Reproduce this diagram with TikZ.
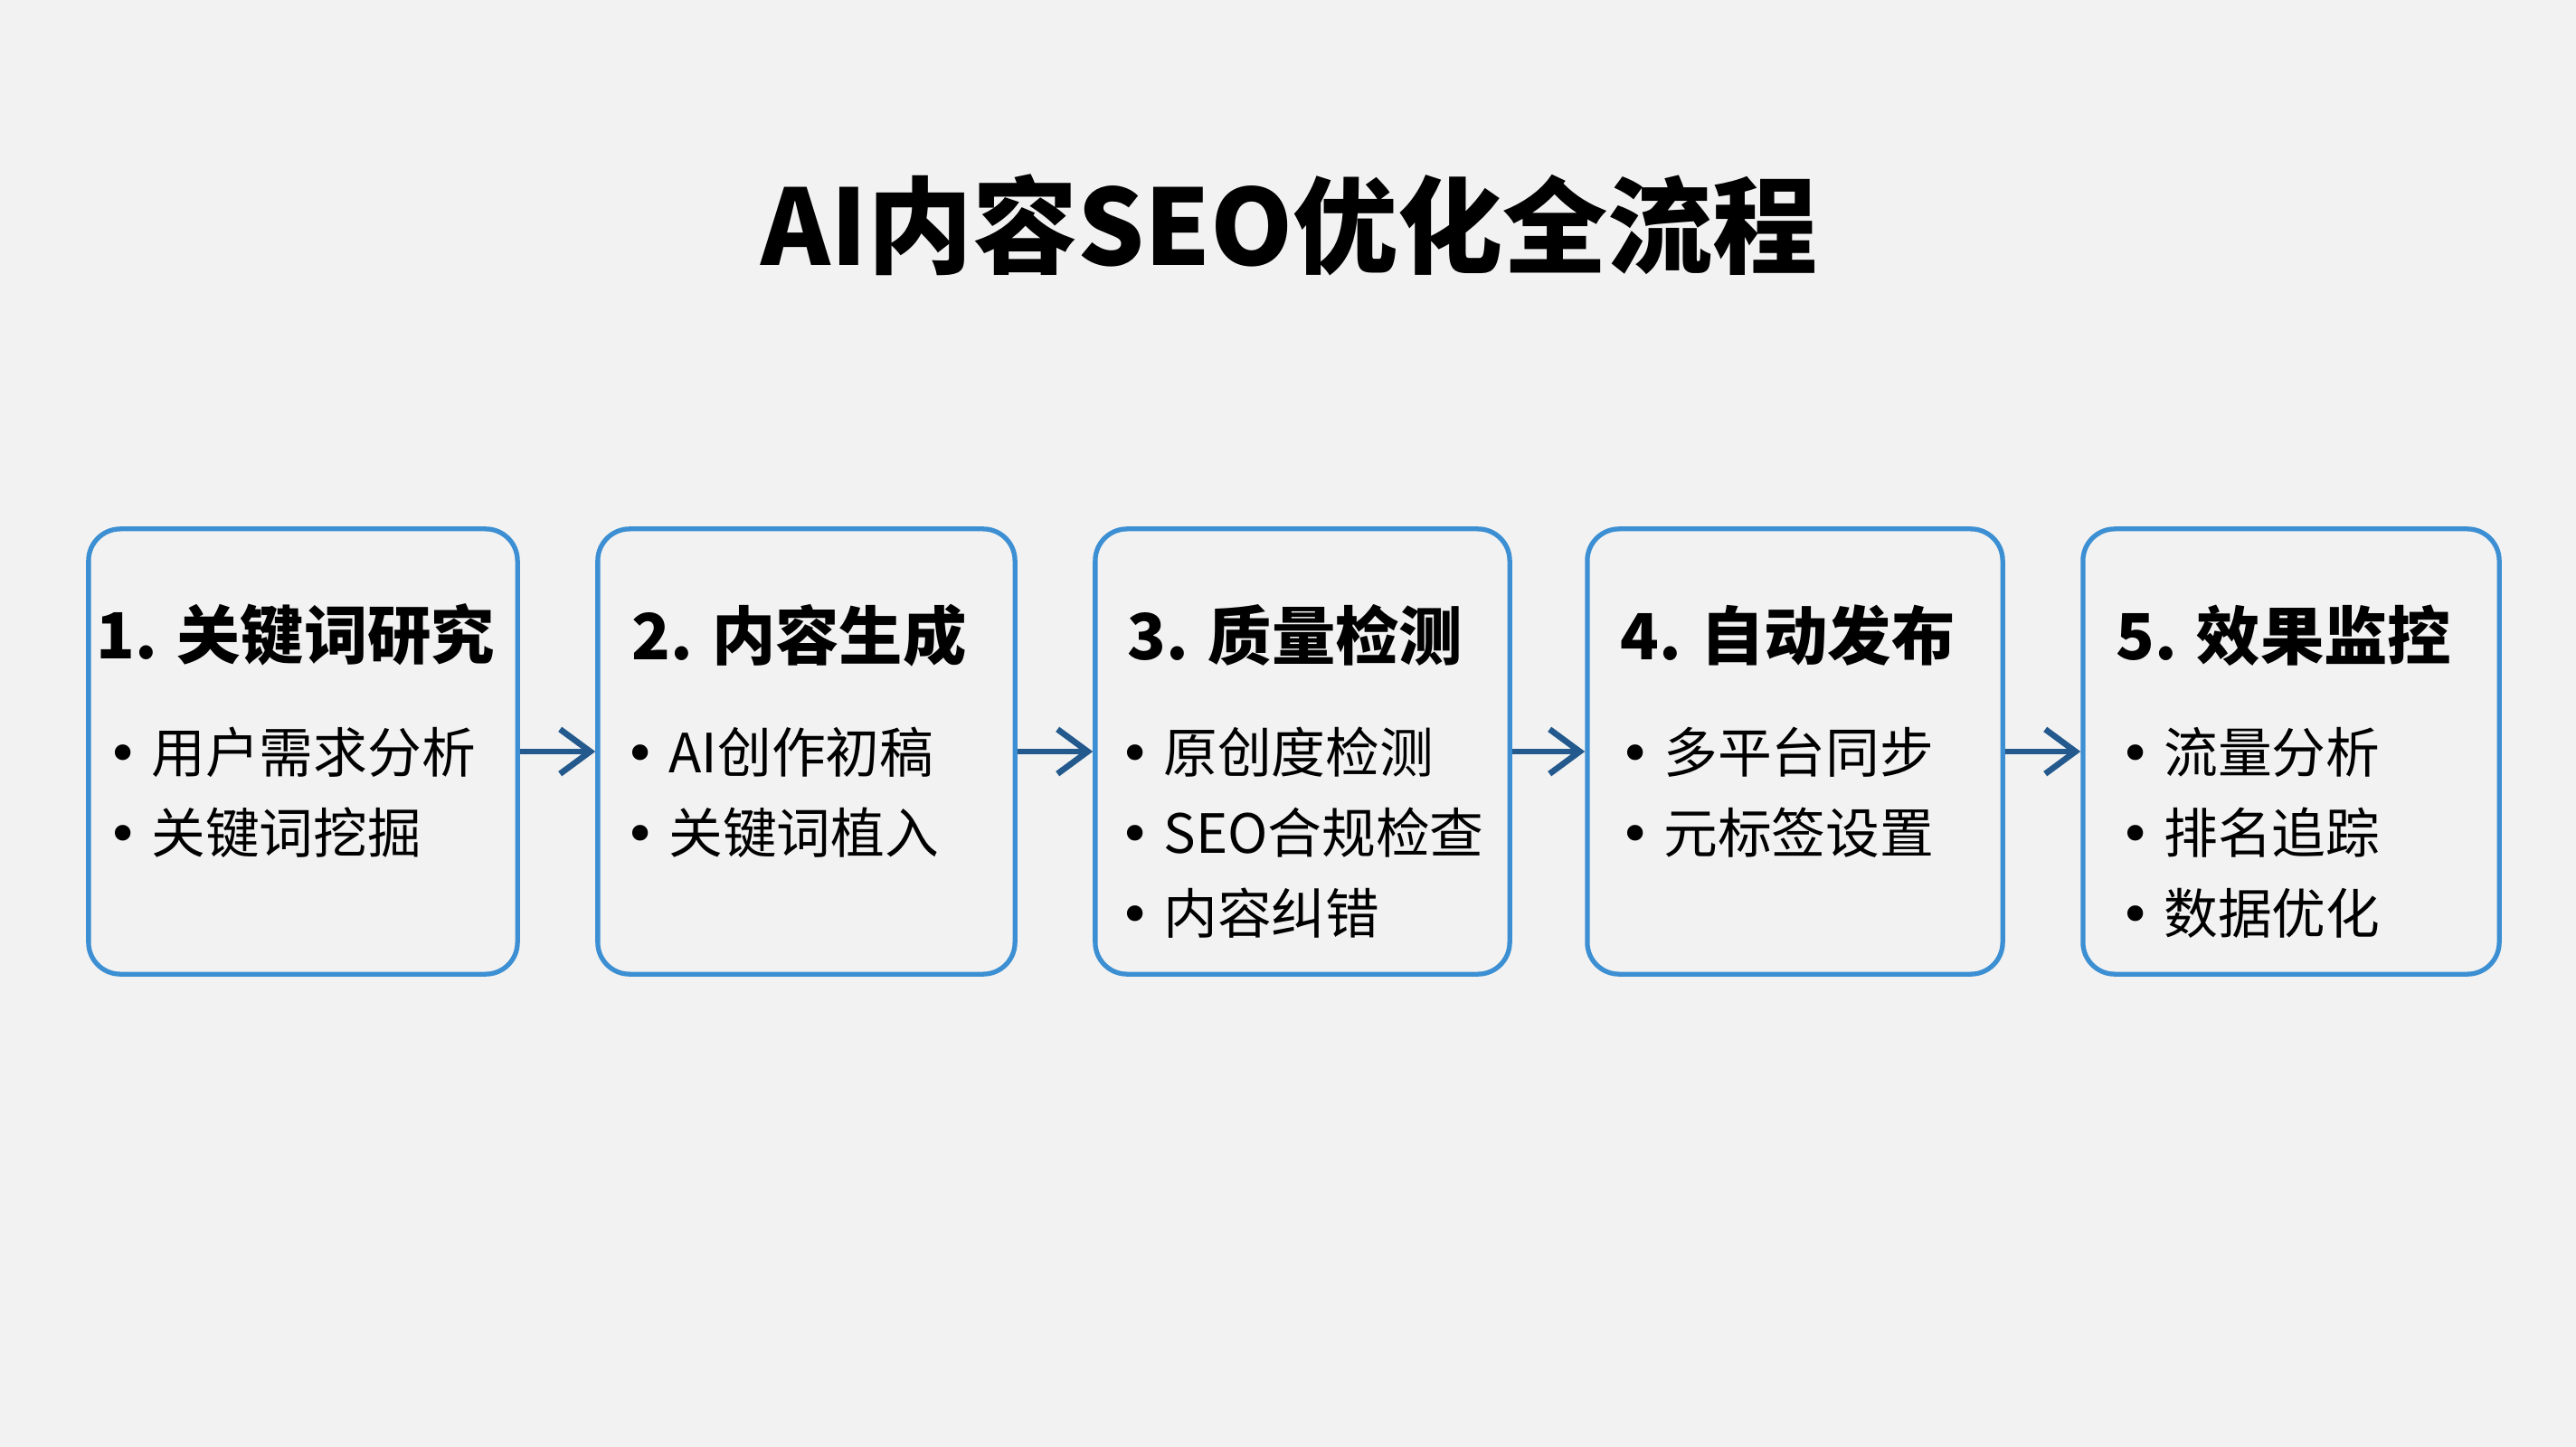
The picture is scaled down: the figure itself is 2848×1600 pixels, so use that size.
\documentclass[tikz,border=0pt]{standalone}
\usepackage{fontspec}
\setmainfont{Noto Sans CJK SC}
\newfontfamily\symfont{DejaVu Sans}
\usepackage{xcolor}
\usetikzlibrary{arrows.meta, positioning}
\definecolor{boxblue}{HTML}{3C8FD2}
\definecolor{arrowblue}{HTML}{23598C}
\definecolor{paper}{HTML}{F2F2F2}
\newcommand\itemdot{{\symfont•}\hspace{0.22em}}

\tikzset{
  stage/.style={draw=boxblue, line width=1.5pt, rounded corners=10pt, fill=paper, minimum height=4.92cm, inner sep=0pt},
  stagehead/.style={font=\bfseries\fontsize{20}{24}\selectfont, inner sep=0pt},
  stageitem/.style={font=\fontsize{17}{20}\selectfont, anchor=west, inner sep=0pt},
  flow/.style={draw=arrowblue, line width=1.9pt, -{Straight Barb[length=9.5pt, width=14pt]}}
}

\begin{document}
\begin{tikzpicture}[x=0.01cm, y=-0.01cm]
  \fill[paper] (0,0) rectangle (2848,1600);
  \useasboundingbox (0,0) rectangle (2848,1600);

  \node[font=\bfseries\fontsize{33}{40}\selectfont] (title) at (1426,249) {AI内容SEO优化全流程};

  % the five stages
  \node[stage, minimum width=4.74cm] (s1) at (335,831) {};
  \node[stage, minimum width=4.61cm] (s2) at (891.5,831) {};
  \node[stage, minimum width=4.58cm] (s3) at (1440,831) {};
  \node[stage, minimum width=4.59cm] (s4) at (1984.5,831) {};
  \node[stage, minimum width=4.60cm] (s5) at (2533,831) {};

  \node[stagehead] (h1) at ([xshift=-0.08cm, yshift=-1.2cm]s1.north) {1. 关键词研究};
  \node[stagehead] (h2) at ([xshift=-0.08cm, yshift=-1.2cm]s2.north) {2. 内容生成};
  \node[stagehead] (h3) at ([xshift=-0.08cm, yshift=-1.2cm]s3.north) {3. 质量检测};
  \node[stagehead] (h4) at ([xshift=-0.08cm, yshift=-1.2cm]s4.north) {4. 自动发布};
  \node[stagehead] (h5) at ([xshift=-0.08cm, yshift=-1.2cm]s5.north) {5. 效果监控};

  \foreach \b/\dx/\items in {1/0.23/{用户需求分析, 关键词挖掘},
                             2/0.32/{AI创作初稿, 关键词植入},
                             3/0.29/{原创度检测, SEO合规检查, 内容纠错},
                             4/0.38/{多平台同步, 元标签设置},
                             5/0.43/{流量分析, 排名追踪, 数据优化}}{
    \foreach \t [count=\k] in \items
      \node[stageitem] (i\b\k) at ([xshift=\dx cm, yshift=-1.6cm-\k*0.89cm]s\b.north west) {\itemdot\t};
  }

  % connectors
  \foreach \a/\b in {1/2, 2/3, 3/4, 4/5}
    \draw[flow] (s\a) -- (s\b);
\end{tikzpicture}
\end{document}
